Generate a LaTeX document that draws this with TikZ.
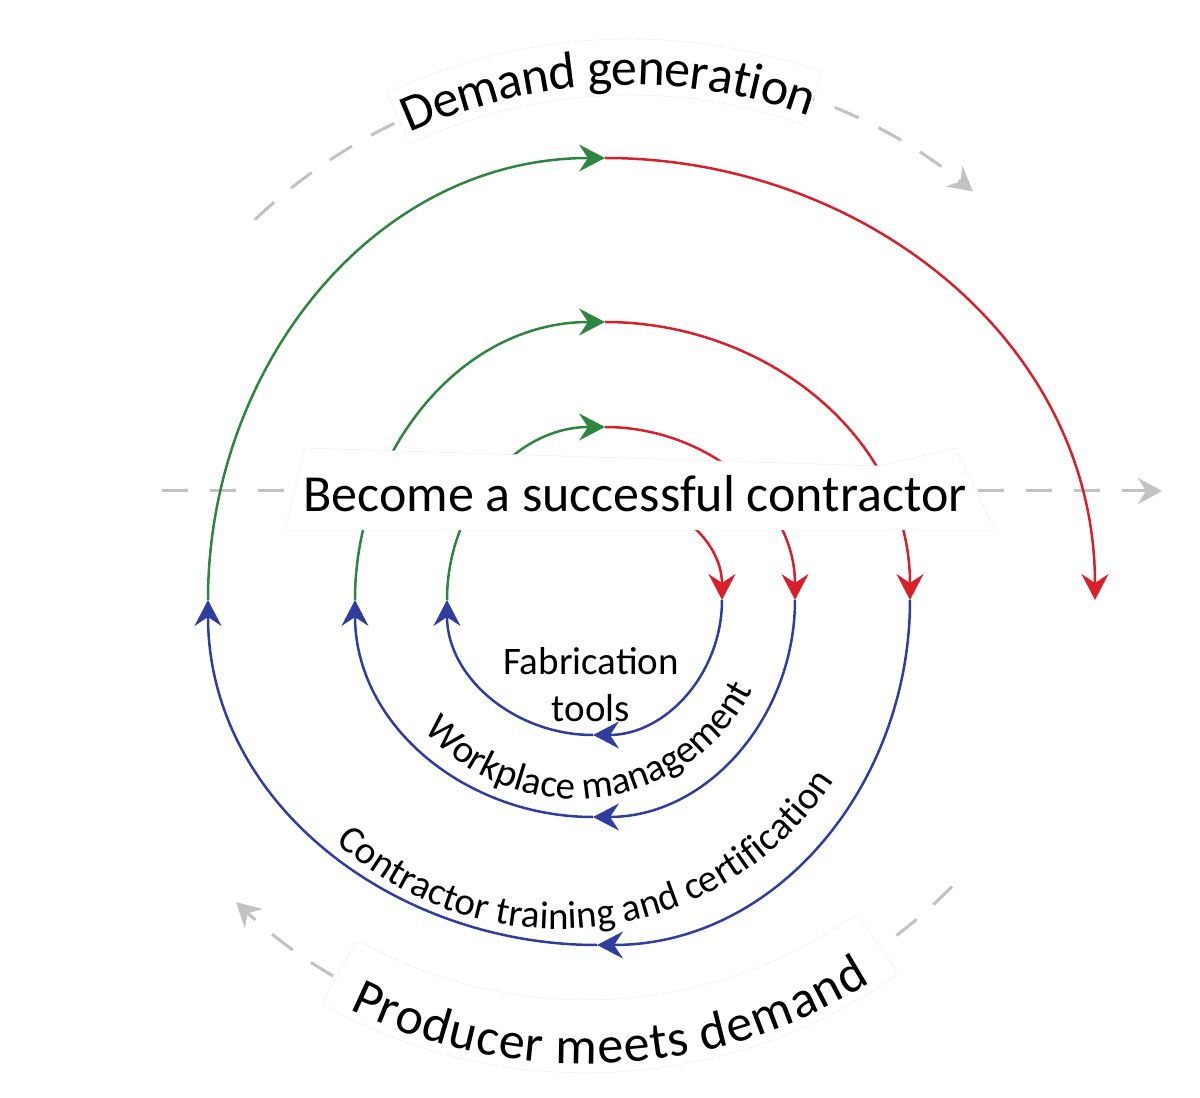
\documentclass[tikz,border=0pt]{standalone}
\usepackage{fontspec}
\setmainfont{Carlito}
\usepackage{tikz}
\usetikzlibrary{arrows.meta,calc,decorations.text}
\usepackage{xcolor}
\definecolor{spgreen}{HTML}{2E8540}
\definecolor{spred}{HTML}{D9202A}
\definecolor{spblue}{HTML}{2F3E9E}
\definecolor{dashgray}{gray}{0.76}
\newcommand{\goalfont}{\fontsize{52}{60}\selectfont}
\newcommand{\ringfont}{\fontsize{39}{47}\selectfont}

\begin{document}
\begin{tikzpicture}[x=1pt, y=1pt,
  spiral/.style={line width=2.5pt, -{Stealth[length=26pt, width=27pt, inset=9pt]}},
  greenarc/.style={spiral, spgreen},
  redarc/.style={spiral, spred},
  bluearc/.style={spiral, spblue},
  flowdash/.style={dashgray, line width=3pt, dash pattern=on 26pt off 22pt,
    -{Stealth[length=24pt, width=26pt, inset=8pt]}},
  band/.style={fill=white, draw=black!8, line width=0.4pt}]
  \useasboundingbox (-605,-498) rectangle (595,600);

  % spiral points
  \coordinate (t0) at (0,107);
  \coordinate (r1) at (117,0);
  \coordinate (b1) at (-12,-135);
  \coordinate (l1) at (-158,0);
  \coordinate (t1) at (0,173);
  \coordinate (r2) at (190,0);
  \coordinate (b2) at (-12,-217);
  \coordinate (l2) at (-250,0);
  \coordinate (t2) at (0,278);
  \coordinate (r3) at (305,0);
  \coordinate (b3) at (-8,-345);
  \coordinate (l3) at (-397,0);
  \coordinate (t3) at (0,442);
  \coordinate (r4) at (490,0);

  % outer flow
  \coordinate (dgc) at (25,-15);
  \coordinate (pmc) at (-19,73);
  \coordinate (dgA) at ($(dgc)+(133.5:545)$);
  \coordinate (pmA) at ($(pmc)+(-44.5:513)$);
  \coordinate (axisL) at (-443,109);
  \coordinate (axisR) at (557,109);
  \draw[flowdash] (axisL) -- (axisR);
  \draw[flowdash] (dgA) arc[start angle=133.5, end angle=51, radius=545];
  \draw[flowdash] (pmA) arc[start angle=-44.5, end angle=-133, radius=513];

  \draw[band] ($(dgc)+(115:520)$) arc[start angle=115, end angle=70.5, radius=520]
    -- ($(dgc)+(70.5:576)$) arc[start angle=70.5, end angle=115, radius=576] -- cycle;
  \draw[band, rounded corners=6pt] ($(pmc)+(241:472)$) arc[start angle=241, end angle=305, radius=472]
    -- ($(pmc)+(305:545)$) arc[start angle=305, end angle=241, radius=545] -- cycle;
  \path[decorate, decoration={text along path, text align=center, raise=-15pt,
    text={|\goalfont|Demand generation}}]
    ($(dgc)+(137.4:545)$) arc[start angle=137.4, end angle=47.4, radius=545];
  \path[decorate, decoration={text along path, text align=center, raise=-24pt,
    text={|\goalfont|Producer meets demand}}]
    ($(pmc)+(227.9:513)$) arc[start angle=227.9, end angle=317.9, radius=513];

  % the spiral
  \draw[redarc] (t0) to[out=0, in=90] (r1);
  \draw[bluearc] (r1) to[out=-90, in=0] (b1);
  \draw[bluearc] (b1) to[out=180, in=-90] (l1);
  \draw[greenarc] (l1) to[out=90, in=180] (t1);
  \draw[redarc] (t1) to[out=0, in=90] (r2);
  \draw[bluearc] (r2) to[out=-90, in=0] (b2);
  \draw[bluearc] (b2) to[out=180, in=-90] (l2);
  \draw[greenarc] (l2) to[out=90, in=180] (t2);
  \draw[redarc] (t2) to[out=0, in=90] (r3);
  \draw[bluearc] (r3) to[out=-90, in=0] (b3);
  \draw[bluearc] (b3) to[out=180, in=-90] (l3);
  \draw[greenarc] (l3) to[out=90, in=180] (t3);
  \draw[redarc] (t3) to[out=0, in=90] (r4);

  % goal
  \draw[band] (-300,152) -- (275,134) -- (350,152) -- (390,70) -- (-320,70) -- cycle;
  \node[anchor=base, font=\goalfont] (goal) at (30,88) {Become a successful contractor};

  % ring labels
  \node[font=\ringfont, align=center] (fab) at (-14,-85) {Fabrication\\tools};
  \path[decorate, decoration={text along path, text align=center,
    text={|\ringfont|Workplace management}}]
    ($(-30,0)+(197:199)$) arc[start angle=197, end angle=357, radius=199];
  \path[decorate, decoration={text along path, text align=center,
    text={|\ringfont|Contractor training and certification}}]
    ($(-46,0)+(197:329)$) arc[start angle=197, end angle=357, radius=329];
\end{tikzpicture}
\end{document}
